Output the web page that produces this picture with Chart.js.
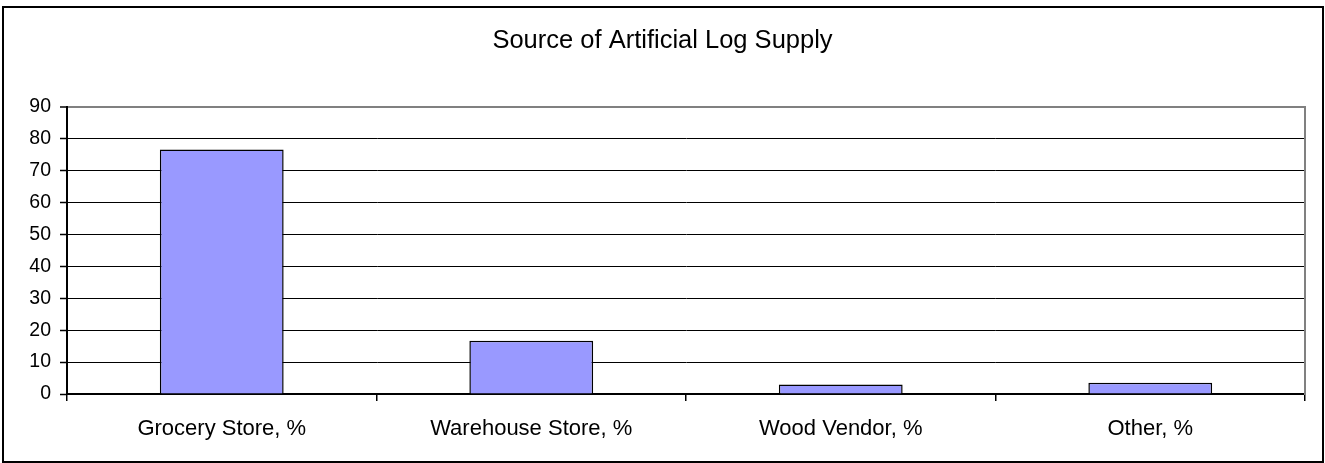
<!DOCTYPE html>
<html>
<head>
<meta charset="utf-8">
<script src="https://cdn.jsdelivr.net/npm/chart.js@4.4.1/dist/chart.umd.min.js"></script>
<style>
  html, body { margin: 0; padding: 0; background: #fff; }
  #wrap { width: 1325px; height: 463px; position: relative; }
</style>
</head>
<body>
<div id="wrap"><canvas id="c"></canvas></div>
<script>
const chartTitle = 'Source of Artificial Log Supply';
const categories = ['Grocery Store, %', 'Warehouse Store, %', 'Wood Vendor, %', 'Other, %'];
const values = [76.7, 16.7, 3.0, 3.5];
const yMin = 0;
const yMax = 90;
const yStep = 10;

const FONT = "'Liberation Sans', Arial, sans-serif";

const framePlugin = {
  id: 'frame',
  beforeDraw(chart) {
    const ctx = chart.ctx;
    ctx.save();
    ctx.fillStyle = '#fff';
    ctx.fillRect(0, 0, chart.width, chart.height);
    ctx.restore();
  },
  afterDraw(chart) {
    const ctx = chart.ctx;
    ctx.save();
    ctx.strokeStyle = '#000';
    ctx.lineWidth = 2;
    ctx.strokeRect(3, 7, 1320, 455);
    ctx.restore();
  }
};

new Chart(document.getElementById('c'), {
  type: 'bar',
  data: {
    labels: categories,
    datasets: [{
      data: values,
      backgroundColor: '#9999FF',
      borderColor: '#000',
      borderWidth: 1.5,
      categoryPercentage: 1.0,
      barPercentage: 0.4
    }]
  },
  plugins: [framePlugin],
  options: {
    responsive: true,
    maintainAspectRatio: false,
    animation: false,
    layout: { padding: 0 },
    plugins: {
      legend: { display: false },
      tooltip: { enabled: false },
      title: {
        display: true,
        text: chartTitle,
        color: '#000',
        font: { family: FONT, size: 25.5, weight: 'normal', lineHeight: 1.2 },
        padding: { top: 26, bottom: 50.4 }
      }
    },
    scales: {
      x: {
        grid: {
          display: true,
          drawOnChartArea: false,
          drawTicks: true,
          tickLength: 7,
          color: '#000',
          lineWidth: 1.5,
          offset: true
        },
        border: { display: true, color: '#000', width: 2 },
        ticks: {
          color: '#000',
          font: { family: FONT, size: 22 },
          padding: 15,
          maxRotation: 0
        },
        afterFit(s) { s.height = 69; }
      },
      y: {
        min: yMin,
        max: yMax,
        ticks: {
          stepSize: yStep,
          color: '#000',
          font: { family: FONT, size: 19.5 },
          padding: 9
        },
        grid: {
          color: (c) => (c.tick && c.tick.value === yMax) ? '#808080' : '#000',
          lineWidth: (c) => (c.tick && c.tick.value === yMax) ? 2 : 1,
          tickColor: '#000',
          tickWidth: 1.5,
          tickLength: 7
        },
        border: { display: true, color: '#000', width: 2 },
        afterFit(s) { s.width = 67; }
      },
      y2: {
        position: 'right',
        min: yMin,
        max: yMax,
        ticks: { display: false },
        grid: { display: false, drawTicks: false },
        border: { display: true, color: '#808080', width: 2 },
        afterFit(s) { s.width = 20; }
      }
    }
  }
});
</script>
</body>
</html>
